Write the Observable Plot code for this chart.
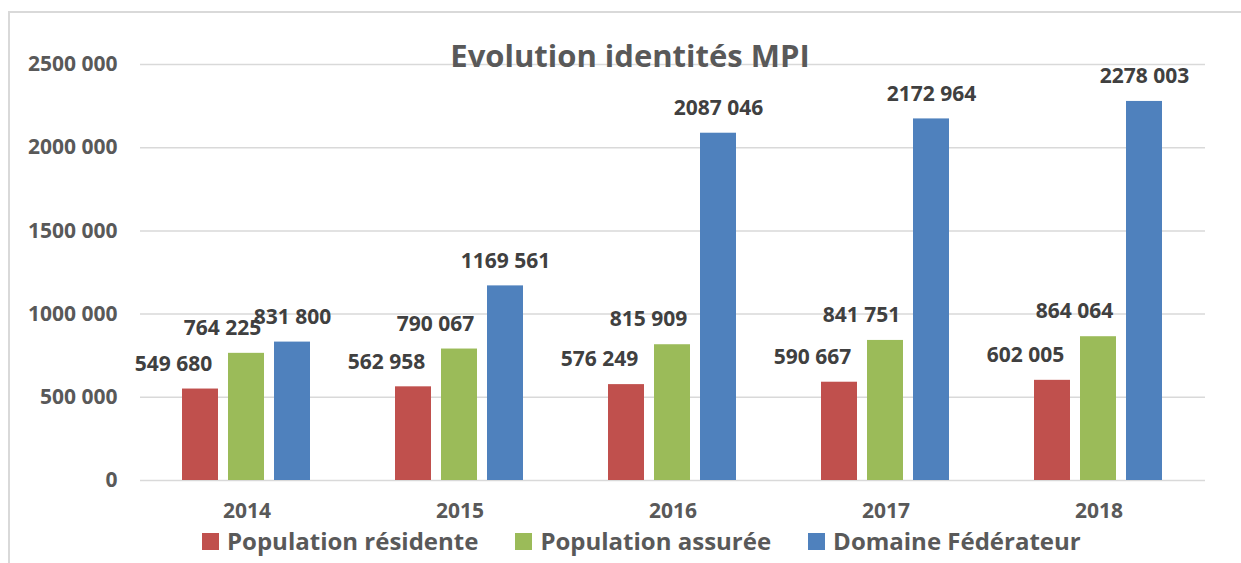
<!DOCTYPE html>
<html><head><meta charset="utf-8">
<script src="https://cdn.jsdelivr.net/npm/d3@7"></script>
<script src="https://cdn.jsdelivr.net/npm/@observablehq/plot@0.6"></script>
<style>
body{margin:0;background:#fff;}
#wrap{position:relative;width:1241px;height:563px;overflow:hidden;font-family:"Open Sans",sans-serif;font-weight:700;}
#frame{position:absolute;left:8px;top:11px;width:1400px;height:800px;border:2px solid #d9d9d9;box-sizing:border-box}
#chart{position:absolute;left:0;top:0}
#title{position:absolute;left:330px;width:600px;top:40px;text-align:center;font-size:31px;line-height:31px;color:#595959;white-space:nowrap}
#legend{position:absolute;left:202px;top:529px;display:flex;gap:37px;font-size:24px;line-height:24px;color:#595959;white-space:nowrap}
.item{display:flex;align-items:center;height:24px}
.sw{width:17px;height:17px;margin-right:8px}
.lt{display:block;height:24px;line-height:24px}
</style></head>
<body>
<div id="wrap">
  <div id="frame"></div>
  <div id="chart"></div>
  <div id="title">Evolution identités MPI</div>
  <div id="legend"></div>
</div>
<script>
const years = ["2014", "2015", "2016", "2017", "2018"];
const series = ["Population résidente", "Population assurée", "Domaine Fédérateur"];
const residente = [549680, 562958, 576249, 590667, 602005];
const assuree = [764225, 790067, 815909, 841751, 864064];
const federateur = [831800, 1169561, 2087046, 2172964, 2278003];
const yTicks = [0, 500000, 1000000, 1500000, 2000000, 2500000];
const colors = ["#C0504D", "#9BBB59", "#4F81BD"];

const values = [residente, assuree, federateur];
const rows = years.flatMap((yr, i) => series.map((s, j) => ({year: yr, series: s, value: values[j][i]})));
const fmt = v => v < 1000 ? String(v) : Math.floor(v / 1000) + " " + String(v % 1000).padStart(3, "0");
const labelShift = [-27, -24, 0];

const chart = Plot.plot({
  width: 1241, height: 540,
  marginTop: 64, marginBottom: 60, marginLeft: 138, marginRight: 34,
  style: {fontFamily: '"Open Sans", sans-serif', fontWeight: 700, fontSize: "21px", background: "transparent", overflow: "visible"},
  fx: {domain: years, paddingInner: 0, paddingOuter: 0, label: null},
  x: {domain: series, paddingInner: 0.2128, paddingOuter: 0.883, axis: null},
  y: {domain: [0, 2500000]},
  color: {domain: series, range: colors},
  marks: [
    Plot.gridY(yTicks, {stroke: "#d9d9d9", strokeOpacity: 1, strokeWidth: 1.5}),
    Plot.axisY(yTicks, {tickSize: 0, tickPadding: 23, tickFormat: fmt, fill: "#595959", label: null, fontSize: 21, fontWeight: 700}),
    Plot.axisFx({anchor: "bottom", tickSize: 0, tickPadding: 23, fill: "#595959", label: null, fontSize: 21, fontWeight: 700}),
    Plot.barY(rows, {fx: "year", x: "series", y: "value", fill: "series"}),
    ...series.map((s, j) => Plot.text(rows.filter(r => r.series === s), {
      fx: "year", x: "series", y: "value", text: d => fmt(d.value),
      dy: -25, dx: labelShift[j], fill: "#404040", fontSize: 21, fontWeight: 700
    }))
  ]
});
document.getElementById("chart").appendChild(chart);

const legend = document.getElementById("legend");
series.forEach((s, j) => {
  const item = document.createElement("div");
  item.className = "item";
  const sw = document.createElement("span");
  sw.className = "sw";
  sw.style.background = colors[j];
  const t = document.createElement("span");
  t.className = "lt";
  t.textContent = s;
  item.appendChild(sw); item.appendChild(t);
  legend.appendChild(item);
});
</script>
</body></html>
